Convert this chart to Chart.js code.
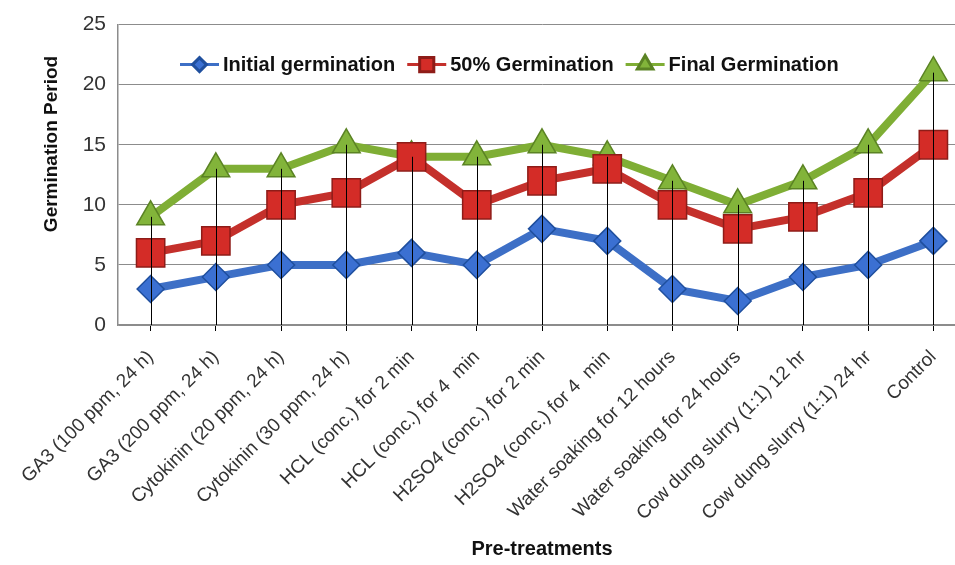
<!DOCTYPE html>
<html>
<head>
<meta charset="utf-8">
<script src="https://cdn.jsdelivr.net/npm/chart.js@4"></script>
<style>
  html, body { margin: 0; background: #fff; overflow: hidden; }
  /* the original plot runs off the right edge of the image, so clip a wider canvas */
  #wrap { width: 955px; height: 565px; overflow: hidden; position: relative; }
  #germChart { display: block; position: absolute; left: 0; top: 0; }
</style>
</head>
<body>
<div id="wrap"><canvas id="germChart" width="970" height="565"></canvas></div>
<script>
// data
const treatments = [
  "GA3 (100 ppm, 24 h)",
  "GA3 (200 ppm, 24 h)",
  "Cytokinin (20 ppm, 24 h)",
  "Cytokinin (30 ppm, 24 h)",
  "HCL (conc.) for 2 min",
  "HCL (conc.) for 4  min",
  "H2SO4 (conc.) for 2 min",
  "H2SO4 (conc.) for 4  min",
  "Water soaking for 12 hours",
  "Water soaking for 24 hours",
  "Cow dung slurry (1:1) 12 hr",
  "Cow dung slurry (1:1) 24 hr",
  "Control"
];
const initialGermination = [3, 4, 5, 5, 6, 5, 8, 7, 3, 2, 4, 5, 7];
const halfGermination    = [6, 7, 10, 11, 14, 10, 12, 13, 10, 8, 9, 11, 15];
const finalGermination   = [9, 13, 13, 15, 14, 14, 15, 14, 12, 10, 12, 15, 21];
const yTicks = [0, 5, 10, 15, 20, 25];

const FONT = "Arial, 'Liberation Sans', sans-serif";

const colors = {
  initial: { line: "#3d6fc6", fill: "#3b70d2", edge: "#1f4f9e" },
  half:    { line: "#c4302b", fill: "#d42c27", edge: "#8e1c18" },
  final:   { line: "#7fae35", fill: "#82b43a", edge: "#5b8324" }
};

// black drop lines from the highest point down to the axis
const dropLines = {
  id: "dropLines",
  afterDatasetsDraw(chart) {
    const { ctx, chartArea, scales } = chart;
    ctx.save();
    ctx.strokeStyle = "#000";
    ctx.lineWidth = 1;
    treatments.forEach((t, i) => {
      const top = Math.max(initialGermination[i], halfGermination[i], finalGermination[i]);
      const x = Math.round(scales.x.getPixelForValue(i)) + 0.5;
      ctx.beginPath();
      ctx.moveTo(x, scales.y.getPixelForValue(top));
      ctx.lineTo(x, chartArea.bottom);
      ctx.stroke();
    });
    ctx.restore();
  }
};

// legend inside the plot, line + marker like the original
const lineLegend = {
  id: "lineLegend",
  afterDraw(chart) {
    const { ctx, chartArea } = chart;
    const y = chartArea.top + 40;
    let x = chartArea.left + 62;
    ctx.save();
    ctx.textBaseline = "middle";
    chart.data.datasets.forEach(ds => {
      ctx.strokeStyle = ds.borderColor;
      ctx.lineWidth = 3;
      ctx.beginPath();
      ctx.moveTo(x, y);
      ctx.lineTo(x + 39, y);
      ctx.stroke();
      ctx.fillStyle = ds.pointBackgroundColor;
      ctx.strokeStyle = ds.pointBorderColor;
      Chart.helpers.drawPoint(ctx, {
        pointStyle: ds.pointStyle,
        radius: ds.legendRadius,
        borderWidth: 1
      }, x + 19.5, y);
      ctx.font = "bold 20px " + FONT;
      ctx.fillStyle = "#111";
      ctx.fillText(ds.label, x + 43, y + 1);
      x += 43 + ctx.measureText(ds.label).width + 12;
    });
    ctx.restore();
  }
};

// rotated y title, sits a bit above the centre in the original
const yTitle = {
  id: "yTitle",
  afterDraw(chart) {
    const { ctx } = chart;
    ctx.save();
    ctx.translate(52, 144);
    ctx.rotate(-Math.PI / 2);
    ctx.font = "bold 19px " + FONT;
    ctx.fillStyle = "#111";
    ctx.textAlign = "center";
    ctx.textBaseline = "middle";
    ctx.fillText("Germination Period", 0, 0);
    ctx.restore();
  }
};

function series(label, data, c, style, radius, legendRadius) {
  return {
    label,
    data,
    borderColor: c.line,
    backgroundColor: c.fill,
    borderWidth: 8,
    pointStyle: style,
    pointRadius: radius,
    pointHoverRadius: radius,
    pointBackgroundColor: c.fill,
    pointBorderColor: c.edge,
    pointBorderWidth: 1.5,
    legendRadius,
    tension: 0,
    fill: false,
    clip: false
  };
}

new Chart(document.getElementById("germChart"), {
  type: "line",
  data: {
    labels: treatments,
    datasets: [
      series("Initial germination", initialGermination, colors.initial, "rectRot", 13.5, 7),
      series("50% Germination", halfGermination, colors.half, "rect", 20, 10),
      series("Final Germination", finalGermination, colors.final, "triangle", 16, 9)
    ]
  },
  options: {
    responsive: false,
    animation: false,
    devicePixelRatio: 1,
    layout: {
      autoPadding: false,
      padding: { top: 22, right: 4, left: 0, bottom: 0 }
    },
    plugins: {
      legend: { display: false },
      tooltip: { enabled: false }
    },
    scales: {
      x: {
        type: "category",
        offset: true,
        afterFit: s => {
          s.height = 240;
          s.paddingLeft = 0;
          s.paddingRight = 0;
        },
        grid: {
          offset: false,
          drawOnChartArea: false,
          color: "#000",
          tickLength: 6
        },
        border: { color: "#8c8c8c", width: 1.5 },
        ticks: {
          minRotation: 45,
          maxRotation: 45,
          autoSkip: false,
          padding: 15,
          color: "#333",
          font: { family: FONT, size: 19 }
        },
        title: {
          display: true,
          text: "Pre-treatments",
          color: "#111",
          padding: { top: 0, bottom: 4 },
          font: { family: FONT, size: 20, weight: "bold" }
        }
      },
      y: {
        min: 0,
        max: 25,
        afterFit: s => { s.width = 118; },
        afterBuildTicks: s => { s.ticks = yTicks.map(v => ({ value: v })); },
        grid: { color: "#8c8c8c", lineWidth: 1, drawTicks: false },
        border: { color: "#8c8c8c", width: 1.5 },
        ticks: {
          padding: 12,
          color: "#333",
          font: { family: FONT, size: 21 }
        }
      }
    }
  },
  plugins: [dropLines, lineLegend, yTitle]
});
</script>
</body>
</html>
